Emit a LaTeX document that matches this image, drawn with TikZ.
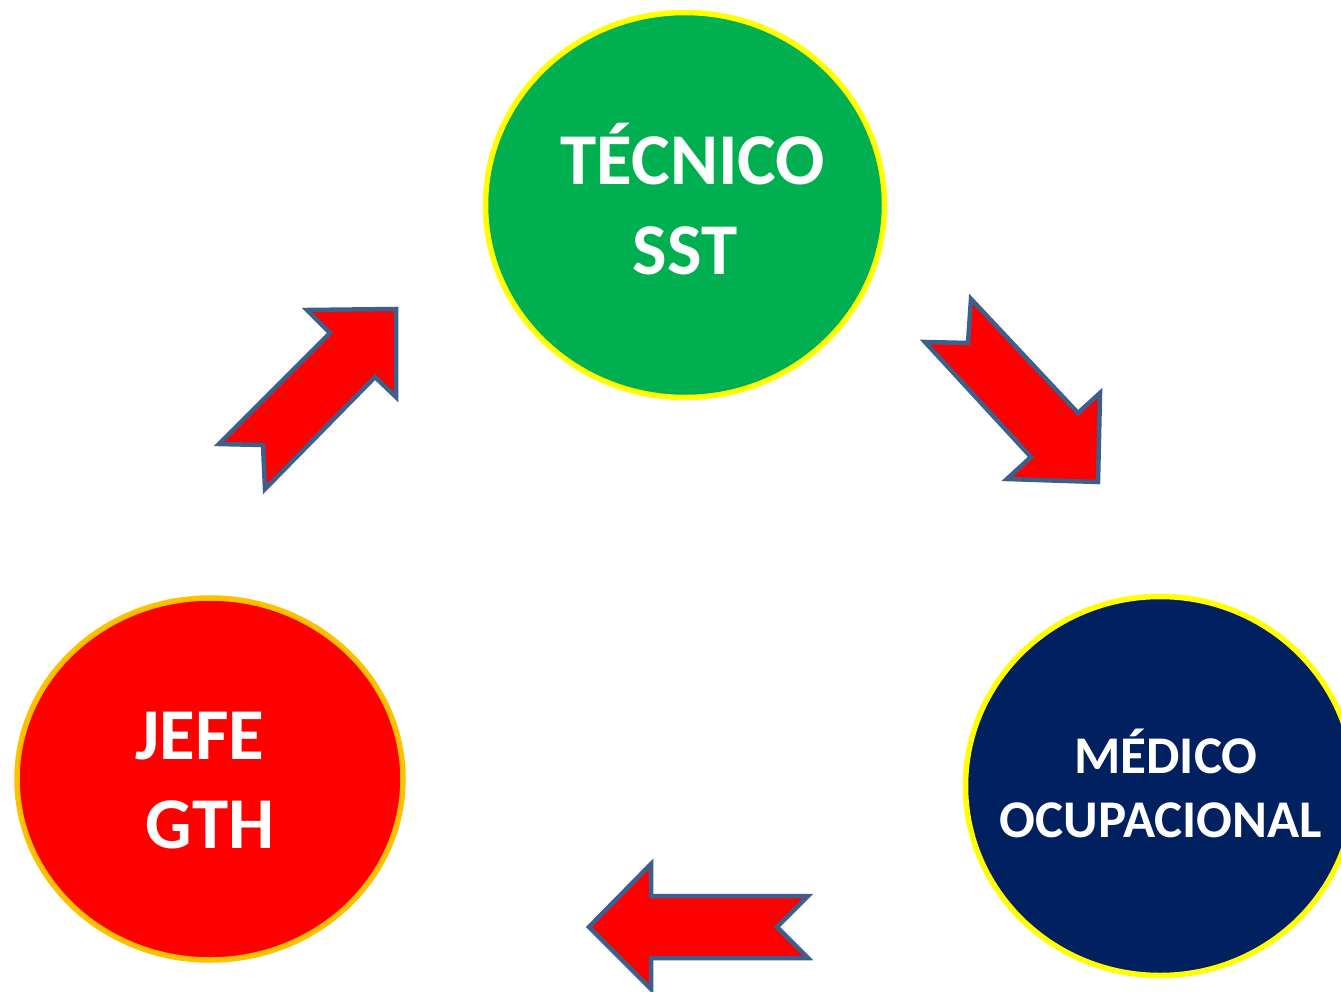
\documentclass[tikz,border=0pt]{standalone}
\usepackage{fontspec}
\setmainfont{Carlito}
\usetikzlibrary{shapes.geometric}
\definecolor{cgreen}{HTML}{00B050}
\definecolor{cnavy}{HTML}{002060}
\definecolor{cred}{HTML}{FF0000}
\definecolor{cyellow}{HTML}{FFFF00}
\definecolor{corange}{HTML}{FFC000}
\definecolor{cedge}{HTML}{3C5F8B}
\tikzset{
  disc/.style={ellipse, inner sep=0pt, line width=5.5pt},
  lbl/.style={text=white, font=\bfseries, inner sep=0pt, anchor=base},
  bigtxt/.style={font=\fontsize{73pt}{86pt}\selectfont\bfseries},
  midtxt/.style={font=\fontsize{53pt}{64pt}\selectfont\bfseries},
  blockarrow/.style={fill=cred, draw=cedge, line width=4.5pt, line join=miter},
}
\begin{document}
\begin{tikzpicture}[x=1pt, y=-1pt]
\useasboundingbox (0,0) rectangle (1341,991);
\fill[white] (0,0) rectangle (1341,991);
% circles
\node[disc, fill=cgreen, draw=cyellow, minimum width=399pt, minimum height=385pt] (tec) at (685,205) {};
\node[disc, fill=cred, draw=corange, minimum width=386pt, minimum height=362pt] (jefe) at (210,779) {};
\node[disc, fill=cnavy, draw=cyellow, minimum width=389pt, minimum height=379pt] (med) at (1160,786) {};
% labels
\node[lbl, bigtxt] (tec1) at (693,184) {TÉCNICO};
\node[lbl, bigtxt] (tec2) at (685,274) {SST};
\node[lbl, bigtxt] (jefe1) at (200,759) {JEFE};
\node[lbl, bigtxt] (jefe2) at (210,848) {GTH};
\node[lbl, midtxt] (med1) at (1166,773) {MÉDICO};
\node[lbl, midtxt] (med2) at (1161,837) {OCUPACIONAL};
% block arrows
\draw[blockarrow] (219,444) -- (263,445) -- (265,489) -- (375,377) -- (396,397) -- (396,309) -- (307,310) -- (330,333) -- cycle;
\draw[blockarrow] (925,342) -- (968,343) -- (971,299) -- (1078,413) -- (1100,393) -- (1098,482) -- (1007,479) -- (1031,457) -- cycle;
\draw[blockarrow] (589,927) -- (651,864) -- (651,896) -- (808,896) -- (777,927) -- (808,958) -- (651,958) -- (651,989) -- cycle;
\end{tikzpicture}
\end{document}
